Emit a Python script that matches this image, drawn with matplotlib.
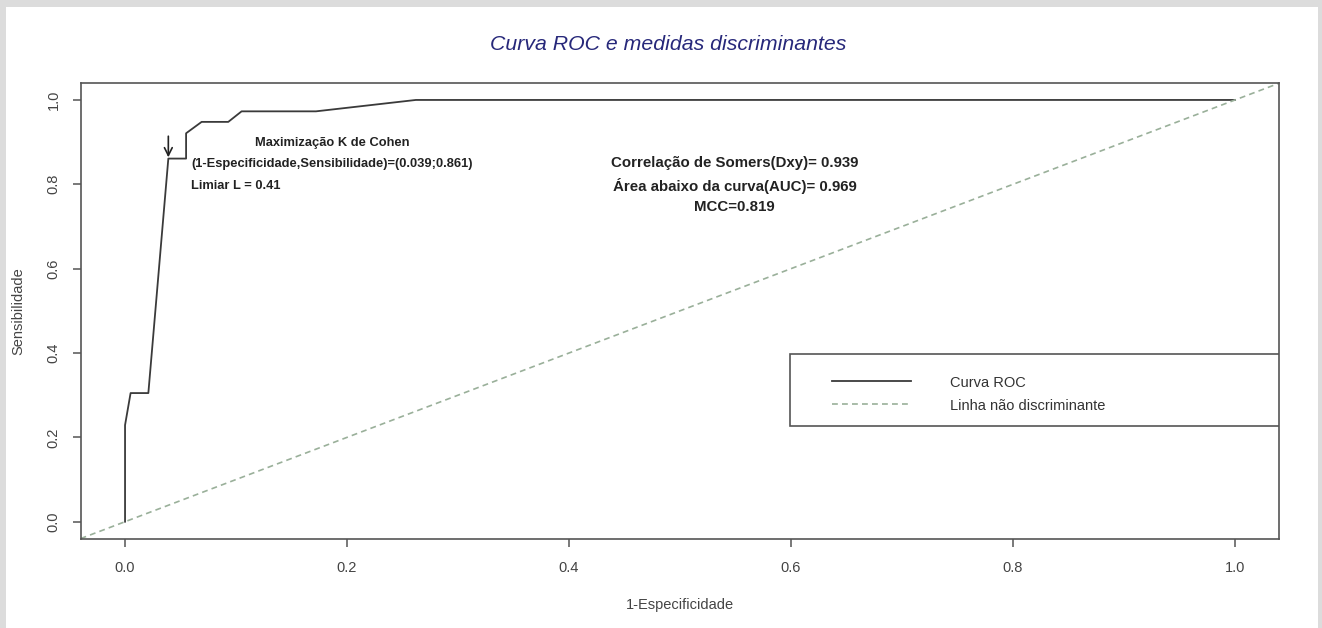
import matplotlib
matplotlib.use("Agg")
import matplotlib.pyplot as plt
from matplotlib.patches import Rectangle
from matplotlib.lines import Line2D

plt.rcParams['font.family'] = ['Liberation Sans', 'DejaVu Sans']

# dados da curva ROC
fpr = [0, 0, 0.005, 0.021, 0.039, 0.055, 0.055, 0.069, 0.093, 0.105, 0.172, 0.262, 1.0]
tpr = [0, 0.229, 0.305, 0.305, 0.861, 0.861, 0.921, 0.948, 0.948, 0.973, 0.973, 1.0, 1.0]

# ponto otimo (Kappa de Cohen)
ponto_x = 0.039
ponto_y = 0.861
limiar = 0.41

# medidas
dxy = 0.939
auc = 0.969
mcc = 0.819

ticks = [0.0, 0.2, 0.4, 0.6, 0.8, 1.0]
cinza = '#444444'
verde = '#9ab09a'

fig = plt.figure(figsize=(13.22, 6.28), dpi=100)
fig.patch.set_facecolor('#dcdcdc')
# painel branco
fig.patches.append(Rectangle((6 / 1322, 0), 1312 / 1322, 621 / 628,
                             transform=fig.transFigure, facecolor='white',
                             edgecolor='none', zorder=-10))

ax = fig.add_axes([0.061, 0.1424, 0.9068, 0.7253])
ax.set_facecolor('white')

ax.plot(fpr, tpr, color='#3a3a3a', lw=1.3)
ax.axline((0, 0), slope=1, color=verde, lw=1.2, dashes=(3.5, 2.5))

ax.set_xlim(-0.04, 1.04)
ax.set_ylim(-0.04, 1.04)
ax.set_xticks(ticks)
ax.set_yticks(ticks)
ax.set_xticklabels([f'{t:.1f}' for t in ticks])
ax.set_yticklabels([f'{t:.1f}' for t in ticks], rotation=90, va='center')
ax.tick_params(axis='both', direction='out', length=5.5, width=1.1,
               color='#555555', labelcolor=cinza, labelsize=10.5)
ax.tick_params(axis='x', pad=10.5)
ax.tick_params(axis='y', pad=9)
for s in ax.spines.values():
    s.set_color('#555555')
    s.set_linewidth(1.2)

ax.set_xlabel('1-Especificidade', fontsize=10.5, color=cinza)
ax.xaxis.set_label_coords(0.5, -0.146)
ax.xaxis.label.set_va('center')
ax.set_ylabel('Sensibilidade', fontsize=10.5, color=cinza)
ax.yaxis.set_label_coords(-0.052, 0.5)
ax.yaxis.label.set_va('center')

fig.text(668 / 1322, 1 - 44 / 628, 'Curva ROC e medidas discriminantes',
         ha='center', va='center', fontsize=15.3, style='italic', color='#27287a')

# seta no ponto otimo
ax.annotate('', xy=(ponto_x, ponto_y + 0.003), xytext=(ponto_x, ponto_y + 0.053),
            arrowprops=dict(arrowstyle='->', color='#222222', lw=1.2,
                            mutation_scale=14, shrinkA=0, shrinkB=0))

kw = dict(ha='center', va='center', fontweight='bold', color='#222222')
ax.text(0.187, 0.898, 'Maximização K de Cohen', fontsize=9.3, **kw)
ax.text(0.187, 0.848,
        f'(1-Especificidade,Sensibilidade)=({ponto_x:.3f};{ponto_y:.3f})',
        fontsize=9.3, **kw)
ax.text(0.1, 0.796, f'Limiar L = {limiar}', fontsize=9.3, **kw)

ax.text(0.549, 0.851, f'Correlação de Somers(Dxy)= {dxy}', fontsize=10.8, **kw)
ax.text(0.549, 0.797, f'Área abaixo da curva(AUC)= {auc}', fontsize=10.8, **kw)
ax.text(0.549, 0.747, f'MCC={mcc}', fontsize=10.8, **kw)

# legenda
ax.add_patch(Rectangle((0.592, 0.247), 0.408, 0.158, transform=ax.transAxes,
                       facecolor='white', edgecolor='#555555', lw=1.2, zorder=3))
handles = [Line2D([], [], color='#3a3a3a', lw=1.3),
           Line2D([], [], color=verde, lw=1.2, dashes=(3.5, 2.5))]
leg = ax.legend(handles, ['Curva ROC', 'Linha não discriminante'],
                loc='upper left', bbox_to_anchor=(0.6268, 0.358),
                frameon=False, borderpad=0, borderaxespad=0,
                handlelength=5.4, handletextpad=2.7, labelspacing=0.62,
                fontsize=10.5)
for t in leg.get_texts():
    t.set_color('#333333')
leg.set_zorder(4)

fig.savefig('out.png', dpi=100, facecolor=fig.get_facecolor())
